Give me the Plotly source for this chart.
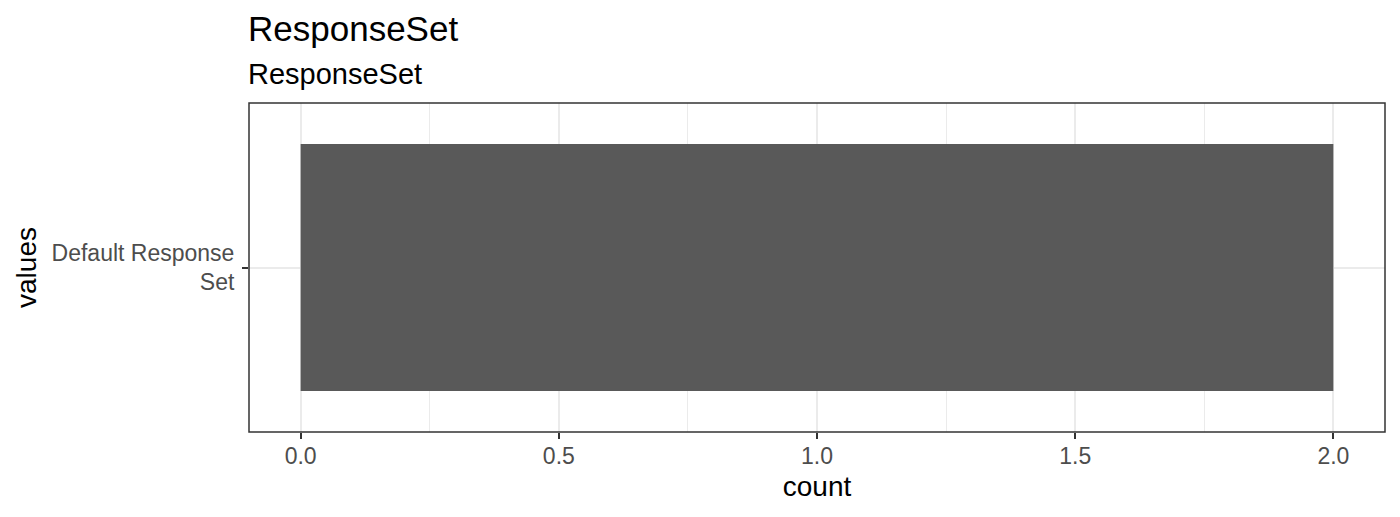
import plotly.graph_objects as go

# data
categories = ["Default Response<br>Set"]
counts = [2]
x_ticks = [0.0, 0.5, 1.0, 1.5, 2.0]
x_tick_labels = ["0.0", "0.5", "1.0", "1.5", "2.0"]

title_text = "ResponseSet"
subtitle_text = "ResponseSet"

font_family = "Liberation Sans, Arial, sans-serif"

fig = go.Figure()
fig.add_trace(go.Bar(
    x=counts, y=categories, orientation="h", width=0.9,
    marker=dict(color="#595959", line=dict(width=0)),
    hoverinfo="x+y",
))

fig.update_layout(
    width=1400, height=517,
    margin=dict(l=249, r=15, t=103, b=85),
    paper_bgcolor="white", plot_bgcolor="white",
    font=dict(family=font_family, color="black"),
    showlegend=False,
    xaxis=dict(
        range=[-0.1, 2.1], tickvals=x_ticks, ticktext=x_tick_labels,
        showgrid=True, gridcolor="#EBEBEB", gridwidth=2,
        minor=dict(dtick=0.25, tick0=0, showgrid=True, gridcolor="#EBEBEB", gridwidth=1),
        zeroline=False,
        ticks="outside", ticklen=6, tickwidth=2, tickcolor="#333333",
        tickfont=dict(size=23, color="#4D4D4D"),
        ticklabelstandoff=-3,
        title=dict(text="count", font=dict(size=28, color="black"), standoff=8),
    ),
    yaxis=dict(
        range=[-0.6, 0.6],
        showgrid=True, gridcolor="#EBEBEB", gridwidth=2,
        zeroline=False,
        ticks="outside", ticklen=6, tickwidth=2, tickcolor="#333333",
        tickfont=dict(size=23, color="#4D4D4D"),
        ticklabelstandoff=3,
        title=dict(text="values", font=dict(size=28, color="black"), standoff=6),
    ),
    shapes=[dict(type="rect", xref="paper", yref="paper", x0=0, x1=1, y0=0, y1=1,
                 line=dict(color="#333333", width=1.5), fillcolor="rgba(0,0,0,0)")],
    annotations=[
        dict(text=title_text, xref="paper", yref="paper", x=0, y=1,
             xanchor="left", yanchor="bottom", xshift=-3, yshift=53, showarrow=False,
             font=dict(size=35, color="black")),
        dict(text=subtitle_text, xref="paper", yref="paper", x=0, y=1,
             xanchor="left", yanchor="bottom", xshift=-3, yshift=11, showarrow=False,
             font=dict(size=29, color="black")),
    ],
)

fig.write_html("out.html", config={"displayModeBar": False},
               post_script="document.body.style.margin='0';")
